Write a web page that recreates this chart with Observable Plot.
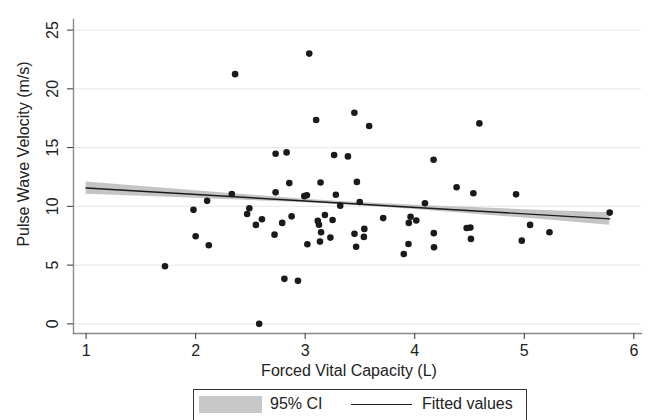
<!DOCTYPE html>
<html>
<head>
<meta charset="utf-8">
<script src="https://cdn.jsdelivr.net/npm/d3@7"></script>
<script src="https://cdn.jsdelivr.net/npm/@observablehq/plot@0.6"></script>
<style>
  body { margin: 0; background: #fff; font-family: "Liberation Sans", Arial, sans-serif; }
  #wrap { position: relative; width: 649px; height: 420px; overflow: hidden; background: #fff; }
  #chart svg { display: block; }
  #legend { position: absolute; left: 193px; top: 389px; width: 334px; height: 36px;
            border: 1px solid #333; box-sizing: border-box; font-size: 16px; color: #222; }
  #legend .sw { position: absolute; left: 5px; top: 6px; width: 63px; height: 17px; background: #c8c8c8; }
  #legend .t1 { position: absolute; left: 76px; top: 5px; line-height: 18px; }
  #legend .ln { position: absolute; left: 157px; top: 14px; width: 61px; height: 0; border-top: 1.3px solid #222; }
  #legend .t2 { position: absolute; left: 228px; top: 5px; line-height: 18px; }
</style>
</head>
<body>
<div id="wrap">
  <div id="chart"></div>
  <div id="legend">
    <div class="sw"></div><div class="t1">95% CI</div>
    <div class="ln"></div><div class="t2">Fitted values</div>
  </div>
</div>
<script>
// Forced Vital Capacity (L)
const fvc = [1.72, 1.98, 2.00, 2.105, 2.12, 2.33, 2.36, 2.47, 2.49, 2.55,
             2.58, 2.605, 2.72, 2.73, 2.73, 2.79, 2.81, 2.83, 2.855, 2.876,
             2.934, 2.992, 3.015, 3.02, 3.037, 3.10, 3.115, 3.126, 3.135, 3.14,
             3.145, 3.18, 3.23, 3.25, 3.264, 3.28, 3.32, 3.39, 3.449, 3.45,
             3.465, 3.472, 3.498, 3.536, 3.54, 3.584, 3.712, 3.90, 3.943, 3.946,
             3.962, 4.014, 4.093, 4.172, 4.174, 4.176, 4.382, 4.474, 4.508, 4.513,
             4.535, 4.59, 4.925, 4.977, 5.053, 5.23, 5.78];
// Pulse Wave Velocity (m/s)
const pwv = [4.90, 9.70, 7.45, 10.47, 6.69, 11.05, 21.25, 9.35, 9.84, 8.42,
             0.0, 8.90, 7.59, 11.19, 14.48, 8.59, 3.83, 14.59, 11.98, 9.15,
             3.66, 10.87, 10.94, 6.77, 23.0, 17.35, 8.76, 8.43, 7.00, 12.03,
             7.80, 9.27, 7.34, 8.84, 14.37, 10.99, 10.06, 14.25, 17.97, 7.66,
             6.56, 12.08, 10.37, 7.40, 8.08, 16.84, 9.00, 5.95, 6.80, 8.59,
             9.12, 8.80, 10.26, 13.97, 7.72, 6.51, 11.62, 8.16, 8.19, 7.23,
             11.11, 17.06, 11.02, 7.08, 8.42, 7.79, 9.47];
// Fitted values (straight line, endpoints)
const fitX = [1, 5.78];
const fitY = [11.56, 8.93];
// 95% CI band
const ciX  = [1, 2, 3, 3.4, 4, 5, 5.78];
const ciLo = [11.04, 10.69, 10.31, 10.12, 9.73, 9.00, 8.40];
const ciHi = [12.08, 11.33, 10.61, 10.36, 10.09, 9.72, 9.46];

const xTicks = [1, 2, 3, 4, 5, 6];
const yTicks = [0, 5, 10, 15, 20, 25];
const xTitle = "Forced Vital Capacity (L)";
const yTitle = "Pulse Wave Velocity (m/s)";

const points = fvc.map((x, i) => ({x, y: pwv[i]}));
const fit = fitX.map((x, i) => ({x, y: fitY[i]}));
const band = ciX.map((x, i) => ({x, lo: ciLo[i], hi: ciHi[i]}));

const plot = Plot.plot({
  width: 649, height: 385,
  marginLeft: 73, marginRight: 8, marginTop: 19, marginBottom: 52,
  style: {fontFamily: "'Liberation Sans', Arial, sans-serif", fontSize: "16px", color: "#222", background: "#fff"},
  x: {domain: [0.885, 6.07], label: null},
  y: {domain: [-0.82, 25.9], label: null},
  marks: [
    Plot.gridY(yTicks, {stroke: "#ebebeb", strokeOpacity: 1, strokeWidth: 1.3}),
    Plot.areaY(band, {x: "x", y1: "lo", y2: "hi", fill: "#c4c4c4", fillOpacity: 1}),
    Plot.lineY(fit, {x: "x", y: "y", stroke: "#1a1a1a", strokeWidth: 1.4}),
    Plot.dot(points, {x: "x", y: "y", r: 3.3, fill: "#1a1a1a", stroke: "none"}),
    Plot.frame({anchor: "left", stroke: "#8a8a8a", strokeWidth: 1.4}),
    Plot.frame({anchor: "bottom", stroke: "#8a8a8a", strokeWidth: 1.4}),
    Plot.axisX(xTicks, {tickSize: 6, tickPadding: 5, stroke: "#333", label: null}),
    Plot.axisY(yTicks, {tickSize: 6, tickPadding: 10, tickRotate: -90, textAnchor: "middle", lineAnchor: "bottom", stroke: "#333", label: null})
  ]
});
document.getElementById("chart").appendChild(plot);

const svg = d3.select(plot);
svg.append("text").attr("x", 349).attr("y", 376).attr("text-anchor", "middle")
  .attr("fill", "#222").style("font-size", "16px").text(xTitle);
svg.append("text").attr("transform", "translate(29,154) rotate(-90)").attr("text-anchor", "middle")
  .attr("fill", "#222").style("font-size", "16px").text(yTitle);
</script>
</body>
</html>
